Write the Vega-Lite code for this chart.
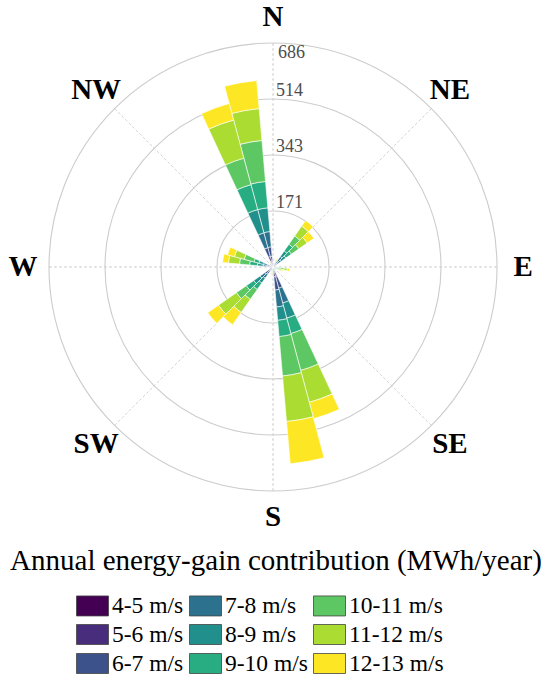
{
  "$schema": "https://vega.github.io/schema/vega-lite/v6.json",
  "width": 546,
  "height": 534,
  "padding": 0,
  "autosize": {"type": "pad"},
  "config": {"view": {"stroke": null}, "font": "Liberation Serif"},
  "title": {
    "text": "Annual energy-gain contribution (MWh/year)",
    "orient": "bottom",
    "anchor": "middle",
    "frame": "group",
    "offset": -129,
    "dx": 3,
    "font": "Liberation Serif",
    "fontSize": 29,
    "fontWeight": "normal",
    "color": "black"
  },
  "datasets": {
    "classes": [
      {"speed": "4-5 m/s", "rank": 1}, {"speed": "5-6 m/s", "rank": 2}, {"speed": "6-7 m/s", "rank": 3},
      {"speed": "7-8 m/s", "rank": 4}, {"speed": "8-9 m/s", "rank": 5}, {"speed": "9-10 m/s", "rank": 6},
      {"speed": "10-11 m/s", "rank": 7}, {"speed": "11-12 m/s", "rank": 8}, {"speed": "12-13 m/s", "rank": 9}
    ],
    "rings": [
      {"r": 171.5, "label": "171"}, {"r": 343, "label": "343"}, {"r": 514.5, "label": "514"}, {"r": 686, "label": "686"}
    ],
    "spokes": [{"a": 0}, {"a": 45}, {"a": 90}, {"a": 135}, {"a": 180}, {"a": 225}, {"a": 270}, {"a": 315}],
    "compass": [
      {"a": 0, "label": "N"}, {"a": 45, "label": "NE"}, {"a": 90, "label": "E"}, {"a": 135, "label": "SE"},
      {"a": 180, "label": "S"}, {"a": 225, "label": "SW"}, {"a": 270, "label": "W"}, {"a": 315, "label": "NW"}
    ],
    "rose": [
      {"dir": 350, "speed": "4-5 m/s", "mwh": 12}, {"dir": 350, "speed": "5-6 m/s", "mwh": 21}, {"dir": 350, "speed": "6-7 m/s", "mwh": 29},
      {"dir": 350, "speed": "7-8 m/s", "mwh": 47}, {"dir": 350, "speed": "8-9 m/s", "mwh": 73}, {"dir": 350, "speed": "9-10 m/s", "mwh": 81},
      {"dir": 350, "speed": "10-11 m/s", "mwh": 126}, {"dir": 350, "speed": "11-12 m/s", "mwh": 98}, {"dir": 350, "speed": "12-13 m/s", "mwh": 86},
      {"dir": 340, "speed": "4-5 m/s", "mwh": 12}, {"dir": 340, "speed": "5-6 m/s", "mwh": 21}, {"dir": 340, "speed": "6-7 m/s", "mwh": 28},
      {"dir": 340, "speed": "7-8 m/s", "mwh": 47}, {"dir": 340, "speed": "8-9 m/s", "mwh": 74}, {"dir": 340, "speed": "9-10 m/s", "mwh": 79},
      {"dir": 340, "speed": "10-11 m/s", "mwh": 84}, {"dir": 340, "speed": "11-12 m/s", "mwh": 121}, {"dir": 340, "speed": "12-13 m/s", "mwh": 52},
      {"dir": 330, "speed": "4-5 m/s", "mwh": 1}, {"dir": 330, "speed": "5-6 m/s", "mwh": 1}, {"dir": 330, "speed": "6-7 m/s", "mwh": 2},
      {"dir": 330, "speed": "7-8 m/s", "mwh": 2}, {"dir": 330, "speed": "8-9 m/s", "mwh": 3}, {"dir": 330, "speed": "9-10 m/s", "mwh": 3},
      {"dir": 330, "speed": "10-11 m/s", "mwh": 3}, {"dir": 330, "speed": "11-12 m/s", "mwh": 2}, {"dir": 330, "speed": "12-13 m/s", "mwh": 1},
      {"dir": 30, "speed": "4-5 m/s", "mwh": 1}, {"dir": 30, "speed": "5-6 m/s", "mwh": 1}, {"dir": 30, "speed": "6-7 m/s", "mwh": 2},
      {"dir": 30, "speed": "7-8 m/s", "mwh": 3}, {"dir": 30, "speed": "8-9 m/s", "mwh": 4}, {"dir": 30, "speed": "9-10 m/s", "mwh": 5},
      {"dir": 30, "speed": "10-11 m/s", "mwh": 5}, {"dir": 30, "speed": "11-12 m/s", "mwh": 4}, {"dir": 30, "speed": "12-13 m/s", "mwh": 3},
      {"dir": 40, "speed": "4-5 m/s", "mwh": 3}, {"dir": 40, "speed": "5-6 m/s", "mwh": 6}, {"dir": 40, "speed": "6-7 m/s", "mwh": 12},
      {"dir": 40, "speed": "7-8 m/s", "mwh": 18}, {"dir": 40, "speed": "8-9 m/s", "mwh": 21}, {"dir": 40, "speed": "9-10 m/s", "mwh": 25},
      {"dir": 40, "speed": "10-11 m/s", "mwh": 31}, {"dir": 40, "speed": "11-12 m/s", "mwh": 37}, {"dir": 40, "speed": "12-13 m/s", "mwh": 21},
      {"dir": 50, "speed": "4-5 m/s", "mwh": 2}, {"dir": 50, "speed": "5-6 m/s", "mwh": 5}, {"dir": 50, "speed": "6-7 m/s", "mwh": 9},
      {"dir": 50, "speed": "7-8 m/s", "mwh": 14}, {"dir": 50, "speed": "8-9 m/s", "mwh": 18}, {"dir": 50, "speed": "9-10 m/s", "mwh": 21},
      {"dir": 50, "speed": "10-11 m/s", "mwh": 28}, {"dir": 50, "speed": "11-12 m/s", "mwh": 31}, {"dir": 50, "speed": "12-13 m/s", "mwh": 25},
      {"dir": 100, "speed": "4-5 m/s", "mwh": 1}, {"dir": 100, "speed": "5-6 m/s", "mwh": 2}, {"dir": 100, "speed": "6-7 m/s", "mwh": 3},
      {"dir": 100, "speed": "7-8 m/s", "mwh": 4}, {"dir": 100, "speed": "8-9 m/s", "mwh": 6}, {"dir": 100, "speed": "9-10 m/s", "mwh": 8},
      {"dir": 100, "speed": "10-11 m/s", "mwh": 10}, {"dir": 100, "speed": "11-12 m/s", "mwh": 10}, {"dir": 100, "speed": "12-13 m/s", "mwh": 8},
      {"dir": 110, "speed": "4-5 m/s", "mwh": 1}, {"dir": 110, "speed": "5-6 m/s", "mwh": 1}, {"dir": 110, "speed": "6-7 m/s", "mwh": 2},
      {"dir": 110, "speed": "7-8 m/s", "mwh": 3}, {"dir": 110, "speed": "8-9 m/s", "mwh": 4}, {"dir": 110, "speed": "9-10 m/s", "mwh": 5},
      {"dir": 110, "speed": "10-11 m/s", "mwh": 6}, {"dir": 110, "speed": "11-12 m/s", "mwh": 6}, {"dir": 110, "speed": "12-13 m/s", "mwh": 4},
      {"dir": 120, "speed": "4-5 m/s", "mwh": 0.5}, {"dir": 120, "speed": "5-6 m/s", "mwh": 1}, {"dir": 120, "speed": "6-7 m/s", "mwh": 1},
      {"dir": 120, "speed": "7-8 m/s", "mwh": 1}, {"dir": 120, "speed": "8-9 m/s", "mwh": 2}, {"dir": 120, "speed": "9-10 m/s", "mwh": 2},
      {"dir": 120, "speed": "10-11 m/s", "mwh": 2}, {"dir": 120, "speed": "11-12 m/s", "mwh": 2}, {"dir": 120, "speed": "12-13 m/s", "mwh": 1},
      {"dir": 160, "speed": "4-5 m/s", "mwh": 12}, {"dir": 160, "speed": "5-6 m/s", "mwh": 18}, {"dir": 160, "speed": "6-7 m/s", "mwh": 37},
      {"dir": 160, "speed": "7-8 m/s", "mwh": 47}, {"dir": 160, "speed": "8-9 m/s", "mwh": 48}, {"dir": 160, "speed": "9-10 m/s", "mwh": 49},
      {"dir": 160, "speed": "10-11 m/s", "mwh": 117}, {"dir": 160, "speed": "11-12 m/s", "mwh": 101}, {"dir": 160, "speed": "12-13 m/s", "mwh": 52},
      {"dir": 170, "speed": "4-5 m/s", "mwh": 12}, {"dir": 170, "speed": "5-6 m/s", "mwh": 18}, {"dir": 170, "speed": "6-7 m/s", "mwh": 41},
      {"dir": 170, "speed": "7-8 m/s", "mwh": 52}, {"dir": 170, "speed": "8-9 m/s", "mwh": 41}, {"dir": 170, "speed": "9-10 m/s", "mwh": 50},
      {"dir": 170, "speed": "10-11 m/s", "mwh": 121}, {"dir": 170, "speed": "11-12 m/s", "mwh": 140}, {"dir": 170, "speed": "12-13 m/s", "mwh": 130},
      {"dir": 190, "speed": "4-5 m/s", "mwh": 1}, {"dir": 190, "speed": "5-6 m/s", "mwh": 1}, {"dir": 190, "speed": "6-7 m/s", "mwh": 2},
      {"dir": 190, "speed": "7-8 m/s", "mwh": 3}, {"dir": 190, "speed": "8-9 m/s", "mwh": 3}, {"dir": 190, "speed": "9-10 m/s", "mwh": 4},
      {"dir": 190, "speed": "10-11 m/s", "mwh": 4}, {"dir": 190, "speed": "11-12 m/s", "mwh": 4}, {"dir": 190, "speed": "12-13 m/s", "mwh": 3},
      {"dir": 200, "speed": "4-5 m/s", "mwh": 0.5}, {"dir": 200, "speed": "5-6 m/s", "mwh": 1}, {"dir": 200, "speed": "6-7 m/s", "mwh": 1},
      {"dir": 200, "speed": "7-8 m/s", "mwh": 2}, {"dir": 200, "speed": "8-9 m/s", "mwh": 2}, {"dir": 200, "speed": "9-10 m/s", "mwh": 3},
      {"dir": 200, "speed": "10-11 m/s", "mwh": 3}, {"dir": 200, "speed": "11-12 m/s", "mwh": 3}, {"dir": 200, "speed": "12-13 m/s", "mwh": 2},
      {"dir": 220, "speed": "4-5 m/s", "mwh": 6}, {"dir": 220, "speed": "5-6 m/s", "mwh": 9}, {"dir": 220, "speed": "6-7 m/s", "mwh": 12},
      {"dir": 220, "speed": "7-8 m/s", "mwh": 15}, {"dir": 220, "speed": "8-9 m/s", "mwh": 18}, {"dir": 220, "speed": "9-10 m/s", "mwh": 24},
      {"dir": 220, "speed": "10-11 m/s", "mwh": 37}, {"dir": 220, "speed": "11-12 m/s", "mwh": 49}, {"dir": 220, "speed": "12-13 m/s", "mwh": 46},
      {"dir": 230, "speed": "4-5 m/s", "mwh": 6}, {"dir": 230, "speed": "5-6 m/s", "mwh": 9}, {"dir": 230, "speed": "6-7 m/s", "mwh": 15},
      {"dir": 230, "speed": "7-8 m/s", "mwh": 18}, {"dir": 230, "speed": "8-9 m/s", "mwh": 24}, {"dir": 230, "speed": "9-10 m/s", "mwh": 28},
      {"dir": 230, "speed": "10-11 m/s", "mwh": 37}, {"dir": 230, "speed": "11-12 m/s", "mwh": 67}, {"dir": 230, "speed": "12-13 m/s", "mwh": 40},
      {"dir": 280, "speed": "4-5 m/s", "mwh": 3}, {"dir": 280, "speed": "5-6 m/s", "mwh": 6}, {"dir": 280, "speed": "6-7 m/s", "mwh": 9},
      {"dir": 280, "speed": "7-8 m/s", "mwh": 12}, {"dir": 280, "speed": "8-9 m/s", "mwh": 18}, {"dir": 280, "speed": "9-10 m/s", "mwh": 24},
      {"dir": 280, "speed": "10-11 m/s", "mwh": 31}, {"dir": 280, "speed": "11-12 m/s", "mwh": 34}, {"dir": 280, "speed": "12-13 m/s", "mwh": 18},
      {"dir": 290, "speed": "4-5 m/s", "mwh": 3}, {"dir": 290, "speed": "5-6 m/s", "mwh": 6}, {"dir": 290, "speed": "6-7 m/s", "mwh": 9},
      {"dir": 290, "speed": "7-8 m/s", "mwh": 12}, {"dir": 290, "speed": "8-9 m/s", "mwh": 15}, {"dir": 290, "speed": "9-10 m/s", "mwh": 15},
      {"dir": 290, "speed": "10-11 m/s", "mwh": 31}, {"dir": 290, "speed": "11-12 m/s", "mwh": 31}, {"dir": 290, "speed": "12-13 m/s", "mwh": 22}
    ]
  },
  "layer": [
    {
      "data": {"name": "spokes"},
      "mark": {"type": "arc", "filled": false, "stroke": "#d6d6d6", "strokeWidth": 1, "strokeDash": [2, 3]},
      "encoding": {
        "theta": {"field": "a", "type": "quantitative", "stack": null, "scale": {"domain": [0, 360]}},
        "theta2": {"field": "a"},
        "radius": {"datum": 686, "type": "quantitative", "stack": null, "scale": {"type": "linear", "domain": [0, 686], "range": [0, 224], "zero": true, "nice": false}}
      }
    },
    {
      "data": {"name": "rings"},
      "mark": {"type": "arc", "filled": false, "stroke": "#cccccc", "strokeWidth": 1.1},
      "encoding": {
        "theta": {"datum": 0, "type": "quantitative", "stack": null, "scale": {"domain": [0, 360]}},
        "theta2": {"datum": 360},
        "radius": {"field": "r", "type": "quantitative", "stack": null, "scale": {"type": "linear", "domain": [0, 686], "range": [0, 224], "zero": true, "nice": false}}
      }
    },
    {
      "data": {"name": "rose"},
      "transform": [
        {"lookup": "speed", "from": {"data": {"name": "classes"}, "key": "speed", "fields": ["rank"]}},
        {"bin": {"step": 10, "anchor": 5, "extent": [-5, 355], "nice": false}, "field": "dir", "as": ["d0", "d1"]},
        {"stack": "mwh", "groupby": ["dir"], "sort": [{"field": "rank", "order": "ascending"}], "as": ["r0", "r1"]}
      ],
      "mark": {"type": "arc", "stroke": "white", "strokeWidth": 0.6},
      "encoding": {
        "theta": {"field": "d0", "type": "quantitative", "stack": null, "scale": {"domain": [0, 360]}},
        "theta2": {"field": "d1"},
        "radius": {"field": "r1", "type": "quantitative", "stack": null, "scale": {"type": "linear", "domain": [0, 686], "range": [0, 224], "zero": true, "nice": false}},
        "radius2": {"field": "r0"},
        "color": {
          "field": "speed",
          "type": "nominal",
          "scale": {
            "domain": ["4-5 m/s", "5-6 m/s", "6-7 m/s", "7-8 m/s", "8-9 m/s", "9-10 m/s", "10-11 m/s", "11-12 m/s", "12-13 m/s"],
            "range": ["#440154", "#472D7B", "#3B528B", "#2C728E", "#21908C", "#27AD81", "#5DC863", "#AADC32", "#FDE725"]
          },
          "legend": {
            "orient": "none",
            "legendX": 76,
            "legendY": 589,
            "columns": 3,
            "padding": 0,
            "title": null,
            "labelFont": "Liberation Serif",
            "labelFontSize": 23.5,
            "labelColor": "black",
            "labelLimit": 400,
            "labelOffset": 3,
            "symbolType": "M-1,-0.625H1V0.625H-1Z",
            "symbolSize": 1024,
            "symbolStrokeColor": "#444444",
            "symbolStrokeWidth": 0.8,
            "symbolOpacity": 1,
            "columnPadding": 3,
            "rowPadding": 0
          }
        }
      }
    },
    {
      "data": {"name": "rings"},
      "transform": [{"filter": "datum.r < 600"}],
      "mark": {"type": "text", "align": "left", "baseline": "alphabetic", "dx": 3, "dy": -3, "fontSize": 18, "color": "#4d4d4d", "font": "Liberation Serif"},
      "encoding": {
        "theta": {"datum": 0, "type": "quantitative", "stack": null, "scale": {"domain": [0, 360]}},
        "radius": {"field": "r", "type": "quantitative", "stack": null, "scale": {"type": "linear", "domain": [0, 686], "range": [0, 224], "zero": true, "nice": false}},
        "text": {"field": "label"}
      }
    },
    {
      "data": {"name": "rings"},
      "transform": [{"filter": "datum.r > 600"}],
      "mark": {"type": "text", "align": "left", "baseline": "alphabetic", "dx": 5, "dy": 15, "fontSize": 18, "color": "#4d4d4d", "font": "Liberation Serif"},
      "encoding": {
        "theta": {"datum": 0, "type": "quantitative", "stack": null, "scale": {"domain": [0, 360]}},
        "radius": {"field": "r", "type": "quantitative", "stack": null, "scale": {"type": "linear", "domain": [0, 686], "range": [0, 224], "zero": true, "nice": false}},
        "text": {"field": "label"}
      }
    },
    {
      "data": {"name": "compass"},
      "mark": {"type": "text", "align": "center", "baseline": "middle", "fontSize": 29, "fontWeight": "bold", "color": "black", "font": "Liberation Serif"},
      "encoding": {
        "theta": {"field": "a", "type": "quantitative", "stack": null, "scale": {"domain": [0, 360]}},
        "radius": {"datum": 766, "type": "quantitative", "stack": null, "scale": {"type": "linear", "domain": [0, 686], "range": [0, 224], "zero": true, "nice": false}},
        "text": {"field": "label"}
      }
    }
  ]
}
